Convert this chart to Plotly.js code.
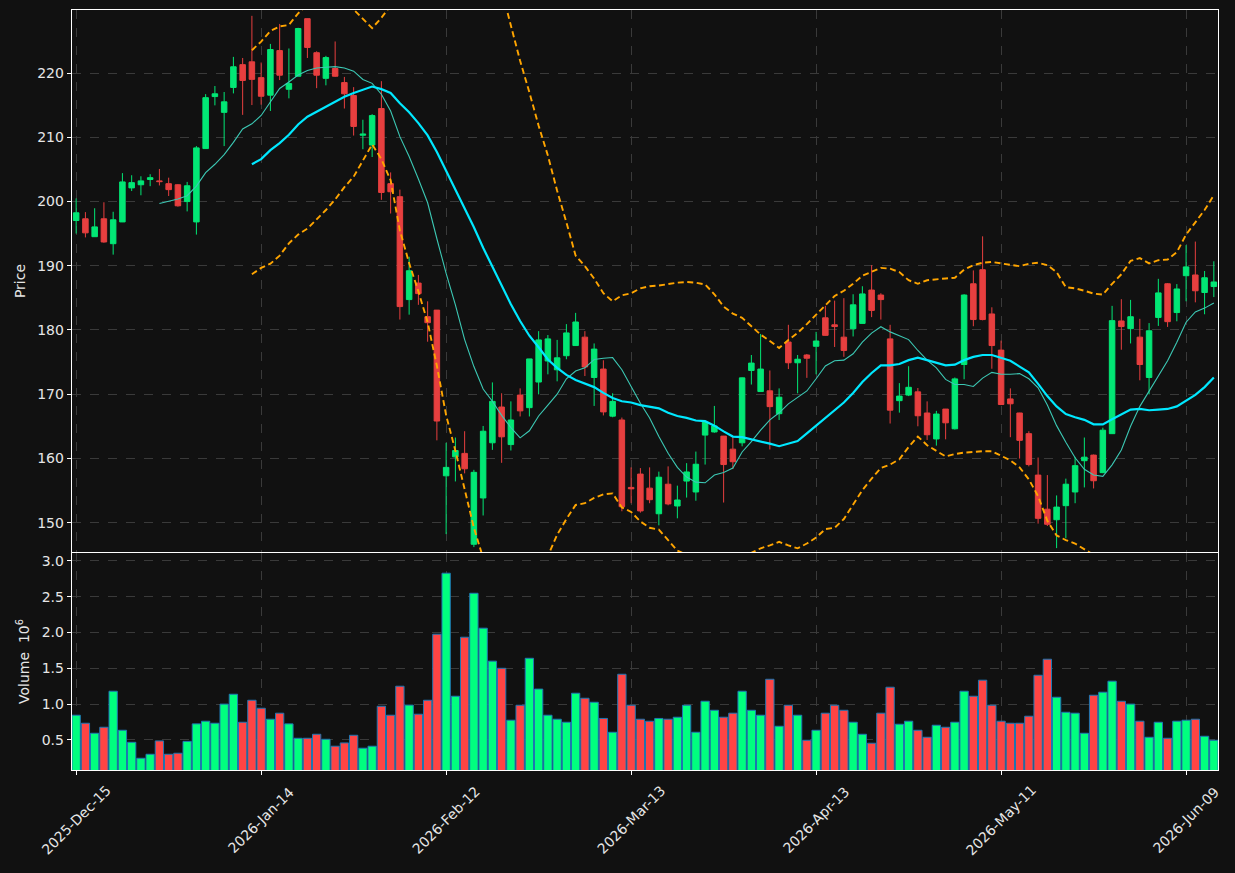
<!DOCTYPE html>
<html>
<head>
<meta charset="utf-8">
<script src="https://cdn.plot.ly/plotly-3.0.1.min.js"></script>
<style>
html,body{margin:0;padding:0;background:#111111;}
#chart{width:1235px;height:873px;}
</style>
</head>
<body>
<div id="chart"></div>
<script>
// ---- tick labels (trading-day positions) ----
const tickBars = [0, 20, 40, 60, 80, 100, 120];
const tickLabels = ["2025-Dec-15","2026-Jan-14","2026-Feb-12","2026-Mar-13","2026-Apr-13","2026-May-11","2026-Jun-09"];

// ---- OHLC (one value per trading day) ----
const openP = [197.04,197.31,194.52,197.31,193.43,196.82,202.12,202.61,203.43,203.21,
202.78,202.61,199.99,196.82,208.24,216.34,213.88,217.76,221.31,221.75,
219.29,216.56,223.5,217.48,219.51,228.47,223.17,219.18,220.71,218.52,
216.5,210.32,208.79,214.48,202.78,200.75,184.73,187.3,182.06,183.09,
157.29,160.24,160.78,146.63,153.84,162.43,168.0,162.15,169.86,167.9,
171.89,175.17,173.8,175.99,177.57,178.88,172.6,173.91,166.58,165.98,
155.48,157.56,155.37,151.38,155.98,152.59,156.47,154.77,163.63,164.12,
163.47,161.44,162.43,173.69,170.41,170.52,166.96,178.12,174.89,176.1,
177.46,181.89,180.8,178.88,180.2,181.02,186.21,185.44,178.61,168.99,
169.86,170.36,167.07,163.03,167.68,164.61,174.62,187.19,189.38,182.49,
176.86,169.26,167.07,163.85,157.4,152.09,150.45,152.64,154.77,159.64,
160.51,157.78,163.85,181.4,180.2,178.88,172.6,181.95,187.19,182.71,
188.45,188.56,185.83,186.76];

const highP = [200.48,198.35,198.95,199.88,198.4,204.42,204.09,203.93,204.25,205.07,
203.71,202.7,203.05,208.63,216.72,217.98,217.05,222.52,222.35,228.91,
221.64,224.54,227.65,223.83,227.05,228.5,223.39,222.68,224.92,219.4,
217.81,212.73,213.6,218.74,204.53,201.85,191.4,188.57,184.46,183.1,
162.43,163.25,164.23,158.22,165.05,171.83,170.14,168.88,170.9,175.5,
179.81,179.21,178.45,180.91,182.66,179.81,177.9,175.28,170.14,166.36,
158.6,158.49,158.6,157.94,158.76,155.76,159.26,161.06,165.7,168.17,
163.5,163.3,172.6,176.1,179.38,173.69,170.9,180.8,176.1,176.26,
179.7,183.75,184.57,184.95,185.56,186.81,190.09,185.72,180.8,171.72,
174.35,170.96,168.88,167.4,167.7,172.6,185.56,189.27,194.58,183.53,
178.34,170.9,167.1,164.23,160.13,157.4,154.23,156.85,160.24,163.25,
160.6,164.78,183.75,184.79,184.68,181.73,181.07,187.96,187.3,187.14,
193.21,193.76,189.18,190.69];

const lowP = [195.01,194.41,194.5,193.59,191.73,196.8,201.63,200.97,202.39,202.5,
200.86,199.2,198.46,194.85,208.2,214.97,208.63,216.83,213.49,215.02,
215.08,214.1,218.91,216.06,219.5,222.35,217.65,218.09,219.4,214.48,
210.27,208.14,206.93,200.26,198.13,181.62,182.38,183.91,178.17,162.81,
148.21,156.41,157.67,146.19,151.11,161.33,159.31,161.23,166.53,166.53,
169.97,173.09,172.0,175.44,177.5,172.82,168.17,166.69,166.4,151.77,
153.02,151.55,153.02,149.58,152.7,150.67,153.9,153.41,159.04,164.0,
153.13,158.33,161.88,171.5,170.4,161.39,165.98,173.91,170.14,172.54,
173.09,179.1,177.35,175.82,178.99,181.0,182.0,181.62,165.43,167.13,
169.7,165.0,162.87,161.99,162.97,164.5,172.32,180.58,181.5,173.96,
168.3,163.3,159.97,158.76,149.85,149.47,146.03,147.56,153.02,155.48,
155.32,157.7,163.8,176.92,177.9,172.16,169.97,180.63,180.47,181.35,
184.46,184.3,182.44,185.12];

const closeP = [198.24,195.12,196.05,193.7,197.15,203.05,202.94,203.21,203.71,203.1,
201.85,199.33,202.45,208.35,216.17,216.77,215.52,220.98,218.85,219.02,
216.39,223.66,219.67,218.36,226.94,223.99,219.67,222.41,219.51,216.77,
211.69,210.49,213.38,201.41,201.52,183.64,189.22,185.66,181.13,165.82,
158.6,161.23,158.38,157.83,164.23,168.88,163.36,165.98,167.4,175.49,
178.45,178.61,175.66,179.54,181.24,174.24,177.02,167.24,168.88,152.48,
155.26,151.82,153.57,157.07,152.91,153.52,157.89,159.09,165.65,165.05,
159.04,159.48,172.54,174.84,173.91,168.06,169.53,174.89,175.44,175.6,
178.28,179.16,180.53,176.81,183.91,185.61,183.04,184.73,167.51,169.7,
171.07,166.64,163.68,166.91,165.54,172.38,185.44,181.62,181.62,177.57,
168.39,168.5,162.81,159.04,150.67,149.74,152.42,155.98,158.87,160.19,
156.52,164.39,181.45,180.53,182.06,174.62,179.87,185.77,181.29,186.38,
189.82,186.1,188.13,187.47];

// ---- volume, millions ----
const volume = [0.845,0.733,0.593,0.677,1.18,0.635,0.467,0.244,0.30,0.486,
0.30,0.314,0.48,0.724,0.761,0.733,1.0,1.138,0.747,1.054,
0.942,0.789,0.873,0.724,0.523,0.523,0.579,0.509,0.412,0.458,
0.565,0.384,0.412,0.97,0.845,1.25,0.986,0.859,1.054,1.976,
2.828,1.11,1.934,2.548,2.06,1.60,1.50,0.775,0.984,1.64,
1.21,0.845,0.789,0.747,1.152,1.082,1.026,0.80,0.607,1.417,
0.984,0.789,0.761,0.80,0.789,0.817,0.984,0.607,1.04,0.914,
0.817,0.873,1.18,0.914,0.845,1.347,0.691,0.984,0.845,0.495,
0.635,0.873,0.984,0.914,0.747,0.579,0.454,0.873,1.236,0.719,
0.761,0.635,0.537,0.705,0.677,0.747,1.18,1.11,1.334,0.984,
0.761,0.733,0.733,0.831,1.403,1.627,1.096,0.886,0.873,0.593,
1.124,1.166,1.32,1.04,1.0,0.761,0.537,0.747,0.523,0.761,
0.775,0.789,0.551,0.495];

// ---- 10-day moving average ----
const ma10 = [null,null,null,null,null,null,null,null,null,199.7,
200.0,200.4,200.9,202.4,204.5,205.8,207.3,209.2,211.3,212.1,
213.4,215.6,217.6,218.6,219.7,220.4,220.8,220.9,221.0,220.8,
220.3,219.0,218.4,216.7,214.1,210.1,207.0,203.5,199.8,194.2,
188.8,183.9,178.5,174.3,170.8,168.9,166.7,164.8,163.2,164.3,
166.6,168.3,170.0,172.4,173.6,174.1,175.4,175.6,175.7,173.8,
171.1,168.6,166.3,163.4,160.8,158.6,157.1,156.3,156.2,157.4,
157.8,158.5,161.0,162.6,164.4,166.0,167.1,168.5,169.5,170.5,
172.4,174.4,175.2,175.3,176.3,178.1,179.5,180.5,179.7,179.1,
178.5,176.8,175.3,174.1,172.3,171.5,171.5,171.2,172.5,173.4,
173.1,173.1,173.2,172.4,171.0,168.3,165.1,162.5,160.1,158.3,
157.4,157.2,159.0,161.3,165.0,168.1,170.5,172.8,175.2,178.1,
181.2,182.8,183.4,184.2];

// ---- 20-day moving average ----
const ma20 = [null,null,null,null,null,null,null,null,null,null,
null,null,null,null,null,null,null,null,null,205.8,
206.6,208.0,209.1,210.4,212.0,213.2,214.0,214.8,215.6,216.3,
216.9,217.4,217.9,217.5,216.9,215.3,213.9,212.2,210.3,207.7,
204.8,201.8,199.0,196.0,192.8,189.9,187.0,184.0,181.4,179.1,
177.3,175.4,174.1,173.0,172.2,171.6,171.1,170.2,169.4,168.9,
168.7,168.3,168.0,167.8,167.1,166.6,166.3,165.9,165.8,165.1,
164.2,163.4,163.3,163.0,162.7,162.3,161.9,162.3,162.7,163.9,
165.1,166.4,167.6,168.7,170.2,171.9,173.3,174.5,174.5,174.7,
175.3,175.7,175.3,174.9,174.5,174.6,175.3,175.8,176.1,176.1,
175.7,175.2,174.3,173.4,171.6,169.7,168.1,166.9,166.4,166.0,
165.3,165.3,166.1,166.8,167.6,167.7,167.5,167.6,167.7,168.1,
169.0,169.9,171.1,172.6];

// ---- Bollinger bands (off-panel parts estimated) ----
const bbUpper = [null,null,null,null,null,null,null,null,null,null,
null,null,null,null,null,null,null,null,null,223.55,
224.9,226.56,227.27,227.49,229.3,230.6,230.8,230.9,230.9,230.5,
229.9,228.45,227.0,228.6,230.5,235.1,237.4,238.4,239.4,241.0,
242.9,242.4,242.8,242.8,241.1,237.5,233.0,227.4,221.9,217.0,
211.8,207.15,201.68,196.76,191.57,189.93,188.0,185.72,184.46,185.39,
185.72,186.48,186.81,186.92,187.19,187.36,187.47,187.36,187.08,185.56,
183.64,182.55,181.89,180.63,179.27,178.28,177.19,178.45,179.54,180.91,
182.38,183.95,185.28,186.1,187.19,188.45,189.11,189.66,189.55,189.0,
187.74,187.19,187.74,187.91,188.02,188.13,189.38,190.09,190.47,190.58,
190.36,190.09,189.93,190.31,190.47,190.09,189.0,186.65,186.48,186.1,
185.66,185.5,187.19,188.67,190.75,191.19,190.36,190.86,190.97,192.12,
194.85,196.76,198.68,200.97];

const bbLower = [null,null,null,null,null,null,null,null,null,null,
null,null,null,null,null,null,null,null,null,188.67,
189.66,190.31,191.57,193.48,194.85,195.78,197.2,198.68,200.32,202.23,
203.87,206.33,208.9,206.6,203.3,195.5,190.4,186.0,181.2,174.4,
166.7,161.2,155.2,149.2,144.5,142.3,141.0,140.6,140.9,141.2,
142.8,144.8,148.1,150.56,152.75,153.02,153.84,154.39,154.55,152.36,
151.66,150.18,149.2,148.92,147.28,145.64,145.0,144.5,144.4,144.5,
144.8,144.3,144.6,145.3,146.0,146.46,147.0,146.46,146.0,146.74,
147.67,149.0,149.2,150.56,152.75,155.04,156.85,158.49,159.04,159.86,
161.77,163.41,162.05,161.12,160.3,160.68,160.9,161.0,161.12,161.12,
160.4,159.7,158.6,156.74,154.12,150.29,148.0,147.28,146.74,145.92,
144.98,145.0,145.0,144.9,144.5,144.2,144.7,144.4,144.4,144.0,
143.2,143.0,143.5,144.2];

// ---- build ----
const idx = closeP.map((_, i) => i);
const UP_C = '#02e775', DN_C = '#e73f3f';
const UP_V = '#00ff7f', DN_V = '#ff4444';
const volColors = closeP.map((c, i) => c >= openP[i] ? UP_V : DN_V);

const font = {family: 'DejaVu Sans, sans-serif', color: '#e6e6e6', size: 14};
const gridC = '#3a3a3a';
const BB_LINE = {color: '#ffa500', width: 1.9, dash: '6px,3.5px'};

const traces = [
  {type: 'candlestick', x: idx, open: openP, high: highP, low: lowP, close: closeP,
   xaxis: 'x', yaxis: 'y', whiskerwidth: 0,
   increasing: {line: {color: UP_C, width: 1}, fillcolor: UP_C},
   decreasing: {line: {color: DN_C, width: 1}, fillcolor: DN_C},
   showlegend: false, hoverinfo: 'skip'},
  {type: 'scatter', mode: 'lines', x: idx, y: ma10, xaxis: 'x', yaxis: 'y',
   line: {color: '#3cc8b4', width: 1.1}, showlegend: false, hoverinfo: 'skip'},
  {type: 'scatter', mode: 'lines', x: idx, y: ma20, xaxis: 'x', yaxis: 'y',
   line: {color: '#00e8ff', width: 2.2}, showlegend: false, hoverinfo: 'skip'},
  {type: 'scatter', mode: 'lines', x: idx, y: bbUpper, xaxis: 'x', yaxis: 'y',
   line: BB_LINE, showlegend: false, hoverinfo: 'skip'},
  {type: 'scatter', mode: 'lines', x: idx, y: bbLower, xaxis: 'x', yaxis: 'y',
   line: BB_LINE, showlegend: false, hoverinfo: 'skip'},
  {type: 'bar', x: idx, y: volume, xaxis: 'x2', yaxis: 'y2', width: 0.9,
   marker: {color: volColors, line: {color: '#1f77b4', width: 1}},
   showlegend: false, hoverinfo: 'skip'}
];

const axCommon = {
  showline: true, mirror: true, linecolor: '#ffffff', linewidth: 1.3,
  showgrid: true, gridcolor: gridC, griddash: 'dash', gridwidth: 1,
  zeroline: false, tickfont: font, tickcolor: '#ffffff'
};

// rotated date labels centred under each tick (matplotlib style)
const dateAnnotations = tickLabels.map((t, i) => ({
  xref: 'x2', yref: 'paper', x: tickBars[i], y: -0.066,
  text: t, textangle: -45, showarrow: false,
  xanchor: 'center', yanchor: 'middle', font: font
}));

const layout = {
  width: 1235, height: 873,
  paper_bgcolor: '#111111', plot_bgcolor: '#111111',
  margin: {l: 72, r: 17, t: 10, b: 103},
  font: font,
  hovermode: false,
  bargap: 0,
  boxgap: 0.15, boxgroupgap: 0.3,
  annotations: dateAnnotations,
  xaxis: Object.assign({}, axCommon, {
    domain: [0, 1], anchor: 'y', range: [-0.45, 123.45],
    tickvals: tickBars, ticktext: tickLabels, showticklabels: false, ticks: '',
    rangeslider: {visible: false}
  }),
  yaxis: Object.assign({}, axCommon, {
    domain: [0.2868, 1], anchor: 'x', range: [145.42, 229.82],
    tickvals: [150, 160, 170, 180, 190, 200, 210, 220],
    ticks: 'outside', ticklen: 4,
    title: {text: 'Price', font: font, standoff: 8}
  }),
  xaxis2: Object.assign({}, axCommon, {
    domain: [0, 1], anchor: 'y2', matches: 'x', range: [-0.45, 123.45],
    tickvals: tickBars, ticktext: tickLabels, showticklabels: false,
    ticks: 'outside', ticklen: 4
  }),
  yaxis2: Object.assign({}, axCommon, {
    domain: [0, 0.2855], anchor: 'x2', range: [0.08, 3.11],
    tickvals: [0.5, 1.0, 1.5, 2.0, 2.5, 3.0], tickformat: '.1f',
    ticks: 'outside', ticklen: 4,
    title: {text: 'Volume  10<sup>6</sup>', font: font, standoff: 8}
  })
};

Plotly.newPlot('chart', traces, layout, {displayModeBar: false, staticPlot: true});
</script>
</body>
</html>
